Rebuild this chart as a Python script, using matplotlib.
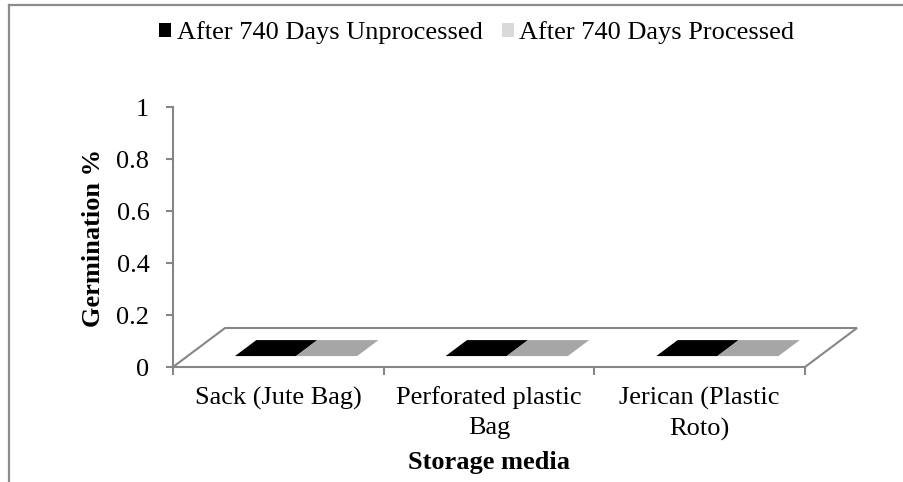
"""Germination % after 740 days by storage media (flat 3-D style column chart)
"""
import matplotlib.pyplot as plt
from matplotlib.lines import Line2D
from matplotlib.patches import Patch, Polygon

plt.rcParams["font.family"] = ["Liberation Serif", "DejaVu Serif"]
plt.rcParams["font.size"] = 19

categories = ["Sack (Jute Bag)", "Perforated plastic\nBag", "Jerican (Plastic\nRoto)"]
series_names = ["After 740 Days Unprocessed", "After 740 Days Processed"]
unprocessed = [0, 0, 0]
processed = [0, 0, 0]
y_ticks = [0, 0.2, 0.4, 0.6, 0.8, 1]
y_tick_labels = ["0", "0.2", "0.4", "0.6", "0.8", "1"]

legend_colors = ["#000000", "#D9D9D9"]
top_colors = ["#000000", "#A6A6A6"]
axis_grey = "#868686"

# oblique "3-D" look: depth shift in data units
dx, dy = 0.247, 0.15
bar_w = 0.29
bar_shift = 0.015
d0, d1 = 0.28, 0.69

fig = plt.figure(figsize=(9.04, 4.82), dpi=100)
W, H = 904, 482
ax = fig.add_axes([173 / W, 1 - 367 / H, (805 - 173) / W, (367 - 107) / H])
ax.set_xlim(0, len(categories))
ax.set_ylim(0, 1)

# floor
floor = Polygon([(0, 0), (len(categories), 0), (len(categories) + dx, dy), (dx, dy)],
                closed=True, facecolor="white", edgecolor=axis_grey, lw=1.5,
                clip_on=False, zorder=2)
ax.add_patch(floor)


def draw_bar(x0, x1, v, top_color):
    pts_top = [(x0 + d0 * dx, v + d0 * dy), (x1 + d0 * dx, v + d0 * dy),
               (x1 + d1 * dx, v + d1 * dy), (x0 + d1 * dx, v + d1 * dy)]
    if v > 0:
        front = [(x0 + d0 * dx, d0 * dy), (x1 + d0 * dx, d0 * dy),
                 (x1 + d0 * dx, v + d0 * dy), (x0 + d0 * dx, v + d0 * dy)]
        ax.add_patch(Polygon(front, closed=True, facecolor=top_color, lw=0,
                             clip_on=False, zorder=3))
    ax.add_patch(Polygon(pts_top, closed=True, facecolor=top_color, lw=0,
                         clip_on=False, zorder=4))


for i in range(len(categories)):
    c = i + 0.5 + bar_shift
    draw_bar(c - bar_w, c, unprocessed[i], top_colors[0])
    draw_bar(c, c + bar_w, processed[i], top_colors[1])

# axes styling
for side in ["top", "right", "bottom"]:
    ax.spines[side].set_visible(False)
ax.spines["left"].set_color(axis_grey)
ax.spines["left"].set_linewidth(1.5)
ax.set_yticks(y_ticks)
ax.set_yticklabels(y_tick_labels)
ax.tick_params(axis="y", length=5, width=1.5, color=axis_grey, pad=12)

ax.set_xticks(range(len(categories) + 1))
ax.set_xticklabels([])
ax.set_xticks([i + 0.5 for i in range(len(categories))], minor=True)
ax.set_xticklabels(categories, minor=True)
for lbl in ax.get_xticklabels(minor=True):
    lbl.set_linespacing(1.45)
ax.tick_params(axis="x", which="major", length=6, width=1.5, color=axis_grey)
ax.tick_params(axis="x", which="minor", length=0, pad=14)

fig.text(94 / W, 1 - 238 / H, "Germination %", rotation=90, fontweight="bold",
         ha="center", va="center")
fig.text(489 / W, 1 - 463 / H, "Storage media", fontweight="bold",
         ha="center", va="center")

handles = [Patch(facecolor=c, edgecolor="none") for c in legend_colors]
fig.legend(handles, series_names, loc="center", bbox_to_anchor=(477 / W, 1 - 33 / H),
           ncol=2, frameon=False, handlelength=0.45, handleheight=0.45,
           handletextpad=0.2, columnspacing=0.75, borderpad=0)

# chart border (only top and left visible in the crop)
fig.add_artist(Line2D([9 / W, 9 / W], [0, 1 - 5 / H], transform=fig.transFigure,
                      color="#8C8C8C", lw=1.6))
fig.add_artist(Line2D([9 / W, 1], [1 - 5 / H, 1 - 5 / H], transform=fig.transFigure,
                      color="#8C8C8C", lw=1.6))

fig.savefig("out.png", dpi=100)
